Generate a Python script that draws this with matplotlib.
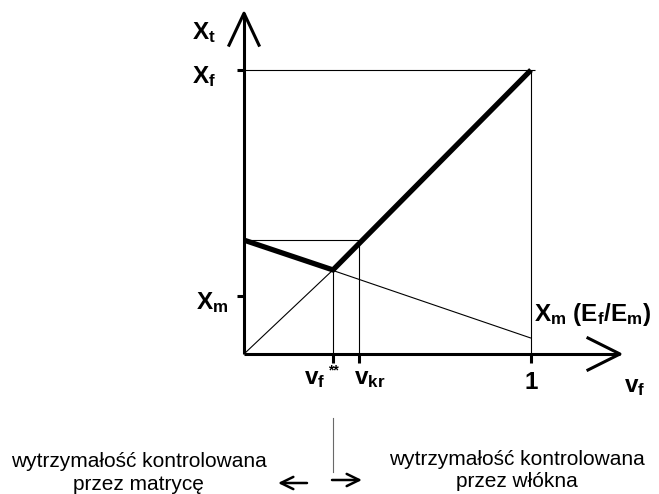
import matplotlib
matplotlib.use("Agg")
import matplotlib.pyplot as plt

# Figure size (px at 100 dpi)
figW, figH, dpi = 659, 494, 100

# Line widths (pt)
axisWidth = 2.2
thickWidth = 3.8
thinWidth = 0.8

labelSize = 17.5
textSize = 15

plt.rcParams['font.family'] = 'Liberation Sans'
plt.rcParams['mathtext.fontset'] = 'custom'
plt.rcParams['mathtext.rm'] = 'Liberation Sans'
plt.rcParams['mathtext.bf'] = 'Liberation Sans:bold'
plt.rcParams['mathtext.it'] = 'Liberation Sans:italic'

# Characteristic values (v_f on x, strength X normalised to X_f = 1)
X_f = 1.0
X_m = 0.204
X_start = 0.401          # strength at v_f = 0 on the matrix-controlled branch
X_mEfEm = 0.056          # X_m (E_f/E_m) at v_f = 1
vf_star = 0.31           # v_f**
X_star = 0.296
v_kr = 0.40

# Strength curve (thick)
curve_vf = [0.0, vf_star, 1.0]
curve_X = [X_start, X_star, X_f]

# Construction lines (thin)
matrix_vf = [0.0, 1.0]
matrix_X = [X_start, X_mEfEm]
fibre_vf = [0.0, vf_star]
fibre_X = [0.0, X_star]

xTicks = [vf_star, v_kr, 1.0]
yTicks = [X_m, X_f]

# axis extents with arrow heads
xAxisEnd = 1.31
yAxisEnd = 1.20


def dx(px):
    return px / 287.0


def dy(px):
    return px / 284.0


fig = plt.figure(figsize=(figW / dpi, figH / dpi), dpi=dpi)
ax = fig.add_axes([244 / figW, (figH - 354) / figH, 287 / figW, 284 / figH])
ax.set_xlim(0, 1)
ax.set_ylim(0, 1)
ax.axis('off')

kw = dict(color='black', clip_on=False, solid_capstyle='butt')

# axes with open arrow heads
ax.plot([0, xAxisEnd], [0, 0], lw=axisWidth, **kw)
ax.plot([0, 0], [0, yAxisEnd], lw=axisWidth, **kw)
ax.plot([xAxisEnd - dx(32), xAxisEnd, xAxisEnd - dx(32)], [dy(16), 0, -dy(16)],
        lw=axisWidth, color='black', clip_on=False)
ax.plot([-dx(15), 0, dx(15)], [yAxisEnd - dy(32), yAxisEnd, yAxisEnd - dy(32)],
        lw=axisWidth, color='black', clip_on=False)

# ticks
for t in xTicks:
    ax.plot([t, t], [0, -dy(9)], lw=axisWidth, **kw)
for t in yTicks:
    ax.plot([-dx(7), 0], [t, t], lw=axisWidth, **kw)

# thin construction lines
ax.plot([0, 1.014], [X_f, X_f], lw=thinWidth, **kw)
ax.plot([1.0, 1.0], [0, X_f], lw=thinWidth, **kw)
ax.plot([0, v_kr], [X_start, X_start], lw=thinWidth, **kw)
ax.plot([v_kr, v_kr], [0, X_start], lw=thinWidth, **kw)
ax.plot([vf_star, vf_star], [0, X_star], lw=thinWidth, **kw)
ax.plot(matrix_vf, matrix_X, lw=thinWidth, **kw)
ax.plot(fibre_vf, fibre_X, lw=thinWidth, **kw)

# strength curve
ax.plot(curve_vf, curve_X, lw=thickWidth, color='black', clip_on=False,
        solid_joinstyle='miter', solid_capstyle='butt')

# axis labels
lab = dict(fontsize=labelSize, va='baseline')
ax.text(-dx(28), dy(354 - 39), r'$\mathbf{X_t}$', ha='right', **lab)
ax.text(-dx(28), dy(354 - 83), r'$\mathbf{X_f}$', ha='right', **lab)
ax.text(-dx(16), dy(354 - 309), r'$\mathbf{X_m}$', ha='right', **lab)
ax.text(1.012, dy(354 - 321), r'$\mathbf{X_m\ (E_f/E_m)}$', ha='left', **lab)
ax.text(1.0, -dy(389 - 354), r'$\mathbf{1}$', ha='center', **lab)
ax.text(dx(624 - 244), -dy(392 - 354), r'$\mathbf{v_f}$', ha='left', **lab)
ax.text(dx(304 - 244), -dy(384 - 354), r'$\mathbf{v_f}$', ha='left', **lab)
ax.text(vf_star, -dy(374 - 354), '**', ha='center', va='baseline',
        fontsize=10, fontweight='bold')
ax.text(dx(354 - 244), -dy(384 - 354), r'$\mathbf{v_{kr}}$', ha='left', **lab)

# regions below the diagram
fig.text(138.5 / figW, 1 - 467 / figH, 'wytrzymałość kontrolowana',
         ha='center', va='baseline', fontsize=textSize)
fig.text(138.5 / figW, 1 - 490 / figH, 'przez matrycę',
         ha='center', va='baseline', fontsize=textSize)
fig.text(516.5 / figW, 1 - 465 / figH, 'wytrzymałość kontrolowana',
         ha='center', va='baseline', fontsize=textSize)
fig.text(516.5 / figW, 1 - 487 / figH, 'przez włókna',
         ha='center', va='baseline', fontsize=textSize)

ax.plot([vf_star, vf_star], [-dy(418 - 354), -dy(472 - 354)], lw=thinWidth,
        color='dimgray', clip_on=False)
arrow = dict(arrowstyle='->, head_length=0.45, head_width=0.22', lw=1.8,
             color='black', mutation_scale=20, shrinkA=0, shrinkB=0)
ax.annotate('', xy=(dx(278 - 244), -dy(483 - 354)), xytext=(dx(307 - 244), -dy(483 - 354)),
            arrowprops=arrow, annotation_clip=False)
ax.annotate('', xy=(dx(362 - 244), -dy(480 - 354)), xytext=(dx(332 - 244), -dy(480 - 354)),
            arrowprops=arrow, annotation_clip=False)

fig.savefig('out.png', dpi=dpi)
